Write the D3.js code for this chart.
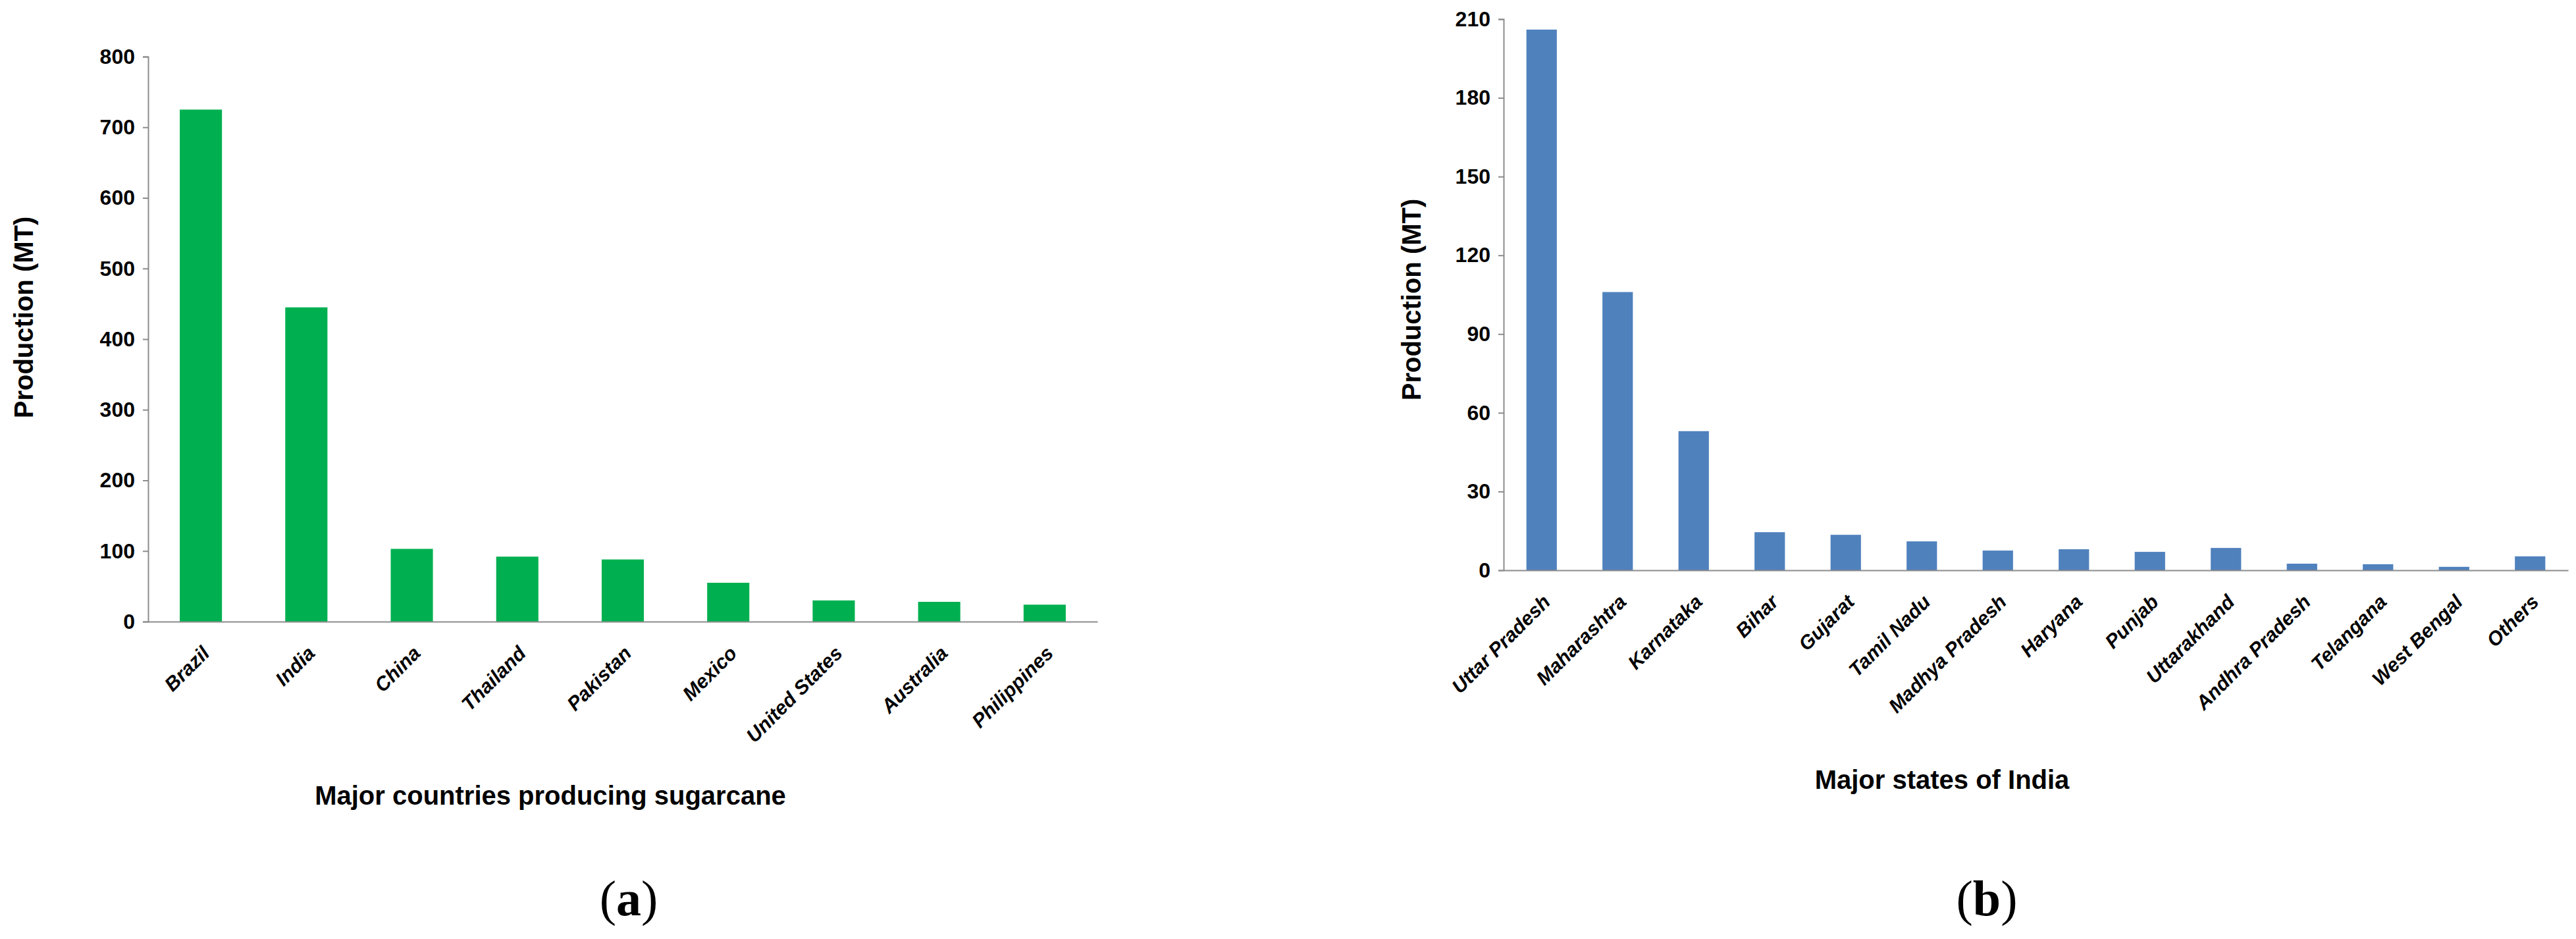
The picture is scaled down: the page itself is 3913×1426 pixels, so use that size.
<!DOCTYPE html>
<html><head><meta charset="utf-8">
<script src="https://cdn.jsdelivr.net/npm/d3@7"></script>
<style>body{margin:0;background:#fff}</style>
</head><body>
<script>
var countries = ['Brazil','India','China','Thailand','Pakistan','Mexico','United States','Australia','Philippines'];
var countryValues = [725,445,103,92,88,55,30,28,24];
var countryTicks = [0,100,200,300,400,500,600,700,800];

var states = ['Uttar Pradesh','Maharashtra','Karnataka','Bihar','Gujarat','Tamil Nadu','Madhya Pradesh','Haryana','Punjab','Uttarakhand','Andhra Pradesh','Telangana','West Bengal','Others'];
var stateValues = [206,106,53,14.5,13.5,11,7.5,8,7,8.5,2.5,2.3,1.3,5.3];
var stateTicks = [0,30,60,90,120,150,180,210];

var font = '"Liberation Sans Narrow","Liberation Sans",Arial,sans-serif';
var svg = d3.select('body').append('svg').attr('width',3913).attr('height',1426);

function panel(o) {
	var g = svg.append('g');
	var x = d3.scaleBand().domain(o.cats).range([o.x0,o.x1]).paddingInner(o.pad).paddingOuter(o.pad/2);
	var y = d3.scaleLinear().domain([0,o.max]).range([o.y0,o.y1]);

	g.selectAll('rect').data(o.vals).enter().append('rect')
		.attr('x',(d,i)=>x(o.cats[i])).attr('width',x.bandwidth())
		.attr('y',d=>y(d)).attr('height',d=>y(0)-y(d))
		.attr('fill',o.color);

	var ya = g.append('g').attr('transform','translate('+o.x0+',0)')
		.call(d3.axisLeft(y).tickValues(o.ticks).tickSize(8).tickPadding(12));
	ya.selectAll('text').style('font-family',font).style('font-weight','bold').style('font-size','32px').attr('fill','#000');
	var xa = g.append('g').attr('transform','translate(0,'+o.y0+')')
		.call(d3.axisBottom(x).tickSize(0).tickPadding(0));
	xa.selectAll('text').style('font-family',font).style('font-weight','bold').style('font-style','italic')
		.style('font-size','30px').attr('fill','#000')
		.attr('text-anchor','end').attr('dy',0)
		.attr('transform','translate(15,50) rotate(-45)');
	g.selectAll('.domain').attr('stroke','#8c8c8c').attr('stroke-width',2);
	ya.selectAll('.tick line').attr('stroke','#8c8c8c').attr('stroke-width',2);

	g.append('text').attr('x',o.tx).attr('y',o.ty).attr('text-anchor','middle')
		.style('font-family',font).style('font-weight','bold').style('font-size','40px').text(o.xtitle);
	g.append('text').attr('transform','translate('+o.yx+','+o.yy+') rotate(-90)').attr('text-anchor','middle')
		.style('font-family',font).style('font-weight','bold').style('font-size','40px').text('Production (MT)');
	var lab = g.append('text').attr('x',o.lx).attr('y',1390).attr('text-anchor','middle')
		.style('font-family','"Liberation Serif","DejaVu Serif",serif').style('font-size','76px');
	lab.append('tspan').text('(');
	lab.append('tspan').style('font-weight','bold').text(o.letter);
	lab.append('tspan').text(')');
}

panel({cats:countries,vals:countryValues,ticks:countryTicks,max:800,x0:225,x1:1667,y0:944,y1:86,pad:0.6,
	color:'#00b050',xtitle:'Major countries producing sugarcane',tx:836,ty:1222,yx:50,yy:482,lx:955,letter:'a'});
panel({cats:states,vals:stateValues,ticks:stateTicks,max:210,x0:2284,x1:3901,y0:866,y1:29,pad:0.6,
	color:'#4f81bd',xtitle:'Major states of India',tx:2950,ty:1198,yx:2158,yy:455,lx:3018,letter:'b'});
</script>
</body></html>
